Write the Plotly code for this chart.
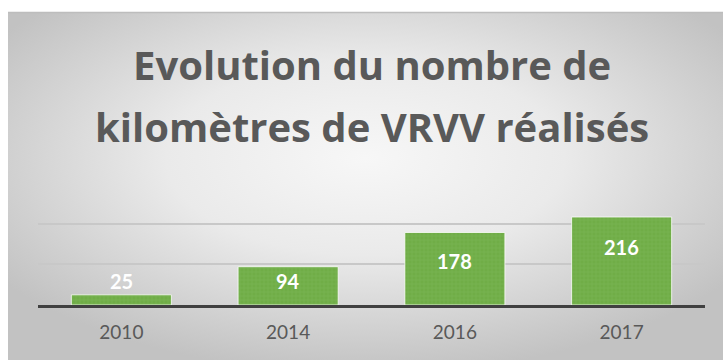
import base64
import plotly.graph_objects as go

# Data
years = ["2010", "2014", "2016", "2017"]
km_realises = [25, 94, 178, 216]
title_lines = ["Evolution du nombre de", "kilomètres de VRVV réalisés"]

W, H = 723, 360
PLOT_L, PLOT_R, PLOT_T, PLOT_B = 38, 705, 182, 305  # plot-area edges in px
positions = list(range(len(years)))


def px_to_paper_x(px):
    return (px - PLOT_L) / (PLOT_R - PLOT_L)


def px_to_paper_y(py):
    return (PLOT_B - py) / (PLOT_B - PLOT_T)


# Radial grey gradient used as the card background
svg = """<svg xmlns='http://www.w3.org/2000/svg' width='715' height='348' viewBox='0 0 715 348' preserveAspectRatio='none'>
<defs><radialGradient id='g' cx='50%' cy='42%' r='62%' fx='50%' fy='42%'>
<stop offset='0' stop-color='#f7f7f7'/><stop offset='0.45' stop-color='#eaeaea'/>
<stop offset='1' stop-color='#c2c2c2'/></radialGradient></defs>
<rect width='715' height='348' fill='url(#g)'/></svg>"""
bg_uri = "data:image/svg+xml;base64," + base64.b64encode(svg.encode()).decode()

fig = go.Figure()
fig.add_trace(go.Bar(
    x=positions,
    y=km_realises,
    width=0.6,
    marker=dict(
        color="#70AD47",
        line=dict(color="rgba(255,255,255,0.75)", width=1),
        pattern=dict(shape="+", fgcolor="#86c060", size=4, solidity=0.25),
    ),
    hoverinfo="skip",
))

# Value labels placed from each bar's own value
label_shift = [0, 0, -14, -16]
for xi, v, dy in zip(positions, km_realises, label_shift):
    fig.add_annotation(
        x=xi, y=v, xref="x", yref="y", text=f"<b>{v}</b>", showarrow=False,
        yanchor="bottom" if xi == 0 else "top", yshift=dy,
        font=dict(family="Lato", size=20, color="white"),
    )

# Two-line title
for line, py in zip(title_lines, [64, 127]):
    fig.add_annotation(
        x=0.5, xref="paper", y=px_to_paper_y(py), yref="paper", yanchor="middle",
        text=f"<b>{line}</b>", showarrow=False,
        font=dict(family="Open Sans", size=40, color="#595959"),
    )

fig.add_layout_image(
    source=bg_uri, xref="paper", yref="paper",
    x=px_to_paper_x(8), y=px_to_paper_y(12),
    sizex=(W - 8) / (PLOT_R - PLOT_L), sizey=(H - 12) / (PLOT_B - PLOT_T),
    xanchor="left", yanchor="top", sizing="stretch", layer="below",
)
# thin border along the top of the card
fig.add_shape(type="line", xref="paper", yref="paper",
              x0=px_to_paper_x(8), x1=px_to_paper_x(W), y0=px_to_paper_y(12.5), y1=px_to_paper_y(12.5),
              line=dict(color="#bdbdbd", width=1.5))

fig.update_layout(
    width=W, height=H,
    margin=dict(l=PLOT_L, r=W - PLOT_R, t=PLOT_T, b=H - PLOT_B, pad=0),
    paper_bgcolor="white", plot_bgcolor="rgba(0,0,0,0)",
    showlegend=False,
    xaxis=dict(
        range=[-0.5, len(years) - 0.5], tickvals=positions, ticktext=years,
        showgrid=False, zeroline=False, showline=True, linecolor="#404040", linewidth=3,
        layer="above traces", ticks="outside", ticklen=8, tickcolor="rgba(0,0,0,0)",
        tickfont=dict(family="Lato", size=19, color="#595959"),
    ),
    yaxis=dict(
        range=[0, 302], tickvals=[0, 100, 200, 300], showticklabels=False,
        showgrid=True, gridcolor="#c8c8c8", gridwidth=2, zeroline=False,
    ),
)

fig.write_html("out.html")
